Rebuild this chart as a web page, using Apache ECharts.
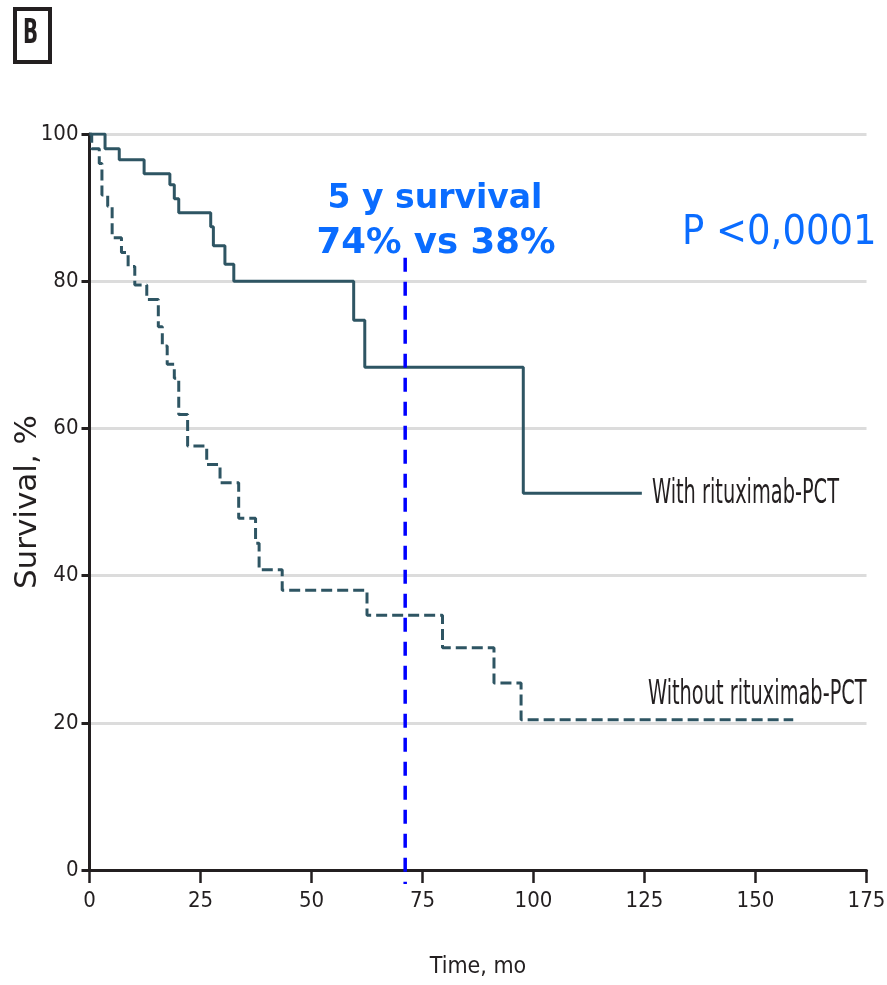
<!DOCTYPE html>
<html>
<head>
<meta charset="utf-8">
<script src="https://cdn.jsdelivr.net/npm/echarts@6/dist/echarts.min.js"></script>
<style>
html,body{margin:0;padding:0;background:#fff;}
#chart{width:887px;height:985px;}
</style>
</head>
<body>
<div id="chart"></div>
<script>
// Kaplan-Meier data: [time (months), survival (%)]
const withRituximab = [
  [0,100],[3.5,98.0],[6.7,96.5],[12.3,94.6],[18.1,93.1],[19.1,91.2],[20.1,89.3],
  [27.3,87.4],[27.9,84.8],[30.5,82.3],[32.5,80.0],[59.5,74.7],[62.0,68.3],
  [97.7,51.2],[124.4,51.2]
];
const withoutRituximab = [
  [0,100],[0.5,98.0],[2.2,96.0],[2.8,91.7],[4.1,90.2],[5.1,85.9],[7.2,83.9],
  [8.7,82.0],[10.2,79.5],[12.9,77.5],[15.5,73.8],[16.4,71.2],[17.5,68.7],
  [19.1,66.8],[20.1,61.9],[22.1,57.6],[26.4,55.1],[29.4,52.6],[33.6,47.8],
  [37.4,44.4],[38.2,40.8],[43.4,38.0],[62.5,34.6],[79.5,30.2],[91.1,25.4],
  [97.2,20.4],[158.5,20.4]
];
const markerLine = [[71.1,83.2],[71.1,-1.9]];
const xTicks = [0,25,50,75,100,125,150,175];
const yTicks = [0,20,40,60,80,100];
const seriesNames = ['With rituximab-PCT','Without rituximab-PCT'];
const annotation1 = '5 y survival';
const annotation2 = '74% vs 38%';
const pText = 'P <0,0001';
const panelLabel = 'B';

const narrow = "'DejaVu Sans Condensed','Liberation Sans Narrow',sans-serif";
const ink = '#231f20';
const curveColor = '#2e5563';
const blue = '#0a6cff';

const chart = echarts.init(document.getElementById('chart'));
chart.setOption({
  animation: false,
  backgroundColor: '#fff',
  grid: {left: 89.5, right: 20.5, top: 134, bottom: 115, containLabel: false, outerBoundsMode: 'none'},
  xAxis: {
    type: 'value', min: xTicks[0], max: xTicks[xTicks.length-1], interval: 25,
    name: 'Time, mo', nameLocation: 'middle', nameGap: 86, nameMoveOverlap: false,
    nameTextStyle: {fontFamily: narrow, fontSize: 23, color: ink},
    axisLine: {show: true, onZero: false, lineStyle: {color: ink, width: 3}},
    axisTick: {show: true, length: 13, lineStyle: {color: ink, width: 2.5}},
    axisLabel: {margin: 20, fontFamily: narrow, fontSize: 22, color: ink},
    splitLine: {show: false}
  },
  yAxis: {
    type: 'value', min: yTicks[0], max: yTicks[yTicks.length-1], interval: 20,
    name: 'Survival, %', nameLocation: 'middle', nameGap: 46, nameRotate: 90, nameMoveOverlap: false,
    nameTextStyle: {fontFamily: "'DejaVu Sans',sans-serif", fontSize: 31, color: ink},
    axisLine: {show: true, lineStyle: {color: ink, width: 3}},
    axisTick: {show: true, length: 8, lineStyle: {color: ink, width: 3}},
    axisLabel: {margin: 11, fontFamily: narrow, fontSize: 22, color: ink},
    splitLine: {show: true, lineStyle: {color: '#dcdcdc', width: 3}}
  },
  series: [
    {
      name: seriesNames[0], type: 'line', step: 'end', data: withRituximab,
      showSymbol: false, lineStyle: {color: curveColor, width: 3}, z: 3
    },
    {
      name: seriesNames[1], type: 'line', step: 'end', data: withoutRituximab,
      showSymbol: false, lineStyle: {color: curveColor, width: 3, type: [11,5]}, z: 3
    },
    {
      name: 'marker', type: 'line', data: markerLine, clip: false,
      showSymbol: false, lineStyle: {color: '#0000ff', width: 3.5, type: [14,10]}, z: 5
    }
  ],
  graphic: [
    {type: 'rect', left: 13, top: 7, shape: {width: 35, height: 53},
     style: {fill: '#fff', stroke: ink, lineWidth: 4}},
    {type: 'text', x: 30.5, y: 34, scaleY: 1.5, style: {text: panelLabel, fontFamily: narrow, fontWeight: 'bold',
      fontSize: 22, fill: ink, align: 'center', verticalAlign: 'middle'}},
    {type: 'text', x: 435, y: 199, style: {text: annotation1, fontFamily: "'DejaVu Sans',sans-serif",
      fontWeight: 'bold', fontSize: 33, fill: blue, align: 'center', verticalAlign: 'middle'}, z: 10},
    {type: 'text', x: 436, y: 244, style: {text: annotation2, fontFamily: "'DejaVu Sans',sans-serif",
      fontWeight: 'bold', fontSize: 35.5, fill: blue, align: 'center', verticalAlign: 'middle'}, z: 10},
    {type: 'text', x: 682, y: 233, scaleY: 1.12, style: {text: pText, fontFamily: "'DejaVu Sans',sans-serif",
      fontSize: 37, fill: blue, align: 'left', verticalAlign: 'middle'}, z: 10},
    {type: 'text', x: 652, y: 494, scaleY: 1.6, style: {text: seriesNames[0], fontFamily: narrow,
      fontSize: 21.5, fill: ink, align: 'left', verticalAlign: 'middle'}, z: 10},
    {type: 'text', x: 648, y: 695, scaleY: 1.6, style: {text: seriesNames[1], fontFamily: narrow,
      fontSize: 21.5, fill: ink, align: 'left', verticalAlign: 'middle'}, z: 10}
  ]
});
</script>
</body>
</html>
